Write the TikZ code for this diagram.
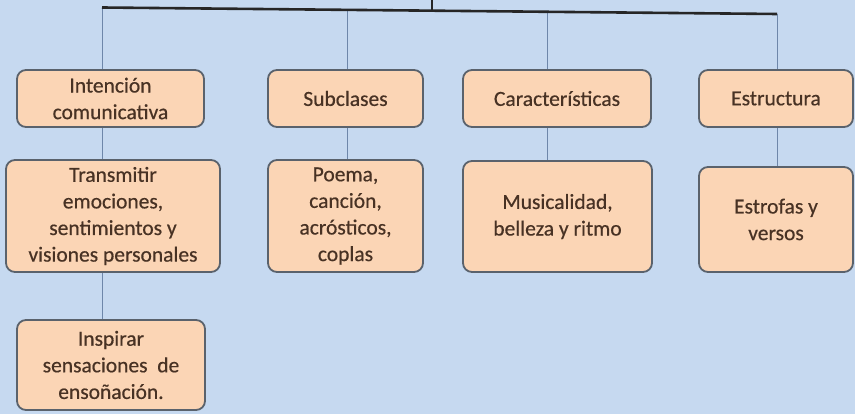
\documentclass[tikz,border=0pt]{standalone}
\usepackage{fontspec}
\setmainfont{Carlito}[FakeBold=0.5]
\definecolor{bg}{RGB}{198,217,240}
\definecolor{boxfill}{RGB}{251,213,181}
\definecolor{boxline}{RGB}{90,98,108}
\definecolor{conn}{RGB}{110,135,170}
\definecolor{txt}{RGB}{72,50,36}
\tikzset{
  box/.style={draw=boxline, line width=1.8pt, fill=boxfill, rounded corners=9pt,
    align=center, text=txt, font=\fontsize{21.5}{26.6}\selectfont, inner sep=1pt},
  conn/.style={draw=conn, line width=0.9pt},
  bar/.style={draw=black!85, line width=2.6pt}
}
\begin{document}
\begin{tikzpicture}[x=1pt,y=-1pt]
\fill[bg] (0,0) rectangle (855,414);
\useasboundingbox (0,0) rectangle (855,414);
% top bar
\coordinate (k1) at (102,7.5);
\coordinate (k2) at (347,9.9);
\coordinate (k3) at (547,11.8);
\coordinate (k4) at (777,14);
\coordinate (ktop) at (432,0);
\coordinate (kmid) at (432,10.7);
% boxes row 1
\node[box, minimum width=187pt, minimum height=57pt] (I) at (110.5,98.5) {Intención\\comunicativa};
\node[box, minimum width=155pt, minimum height=57pt] (S) at (345.5,98.5) {Subclases};
\node[box, minimum width=188pt, minimum height=57pt] (C) at (557,98.5) {Características};
\node[box, minimum width=154pt, minimum height=57pt] (E) at (776,98.5) {Estructura};
% row 2
\node[box, minimum width=214pt, minimum height=112pt] (T) at (113,216) {Transmitir\\emociones,\\sentimientos y\\visiones personales};
\node[box, minimum width=155pt, minimum height=112pt] (P) at (345.5,216) {Poema,\\canción,\\acrósticos,\\coplas};
\node[box, minimum width=189pt, minimum height=111pt] (M) at (557.5,216.5) {Musicalidad,\\belleza y ritmo};
\node[box, minimum width=154pt, minimum height=105pt] (F) at (776,219.5) {Estrofas y\\versos};
% row 3
\node[box, minimum width=188pt, minimum height=90pt] (N) at (111,365) {Inspirar\\sensaciones~~de\\ensoñación.};
% connectors
\draw[conn] (k1) -- (k1 |- I.north);
\draw[conn] (k2) -- (k2 |- S.north);
\draw[conn] (k3) -- (k3 |- C.north);
\draw[conn] (k4) -- (k4 |- E.north);
\draw[conn] (k1 |- I.south) -- (k1 |- T.north);
\draw[conn] (k2 |- S.south) -- (k2 |- P.north);
\draw[conn] (k3 |- C.south) -- (k3 |- M.north);
\draw[conn] (k4 |- E.south) -- (k4 |- F.north);
\draw[conn] (k1 |- T.south) -- (k1 |- N.north);
\draw[bar] (k1) -- (k4);
\draw[bar, line width=2pt] (ktop) -- (kmid);
\end{tikzpicture}
\end{document}
